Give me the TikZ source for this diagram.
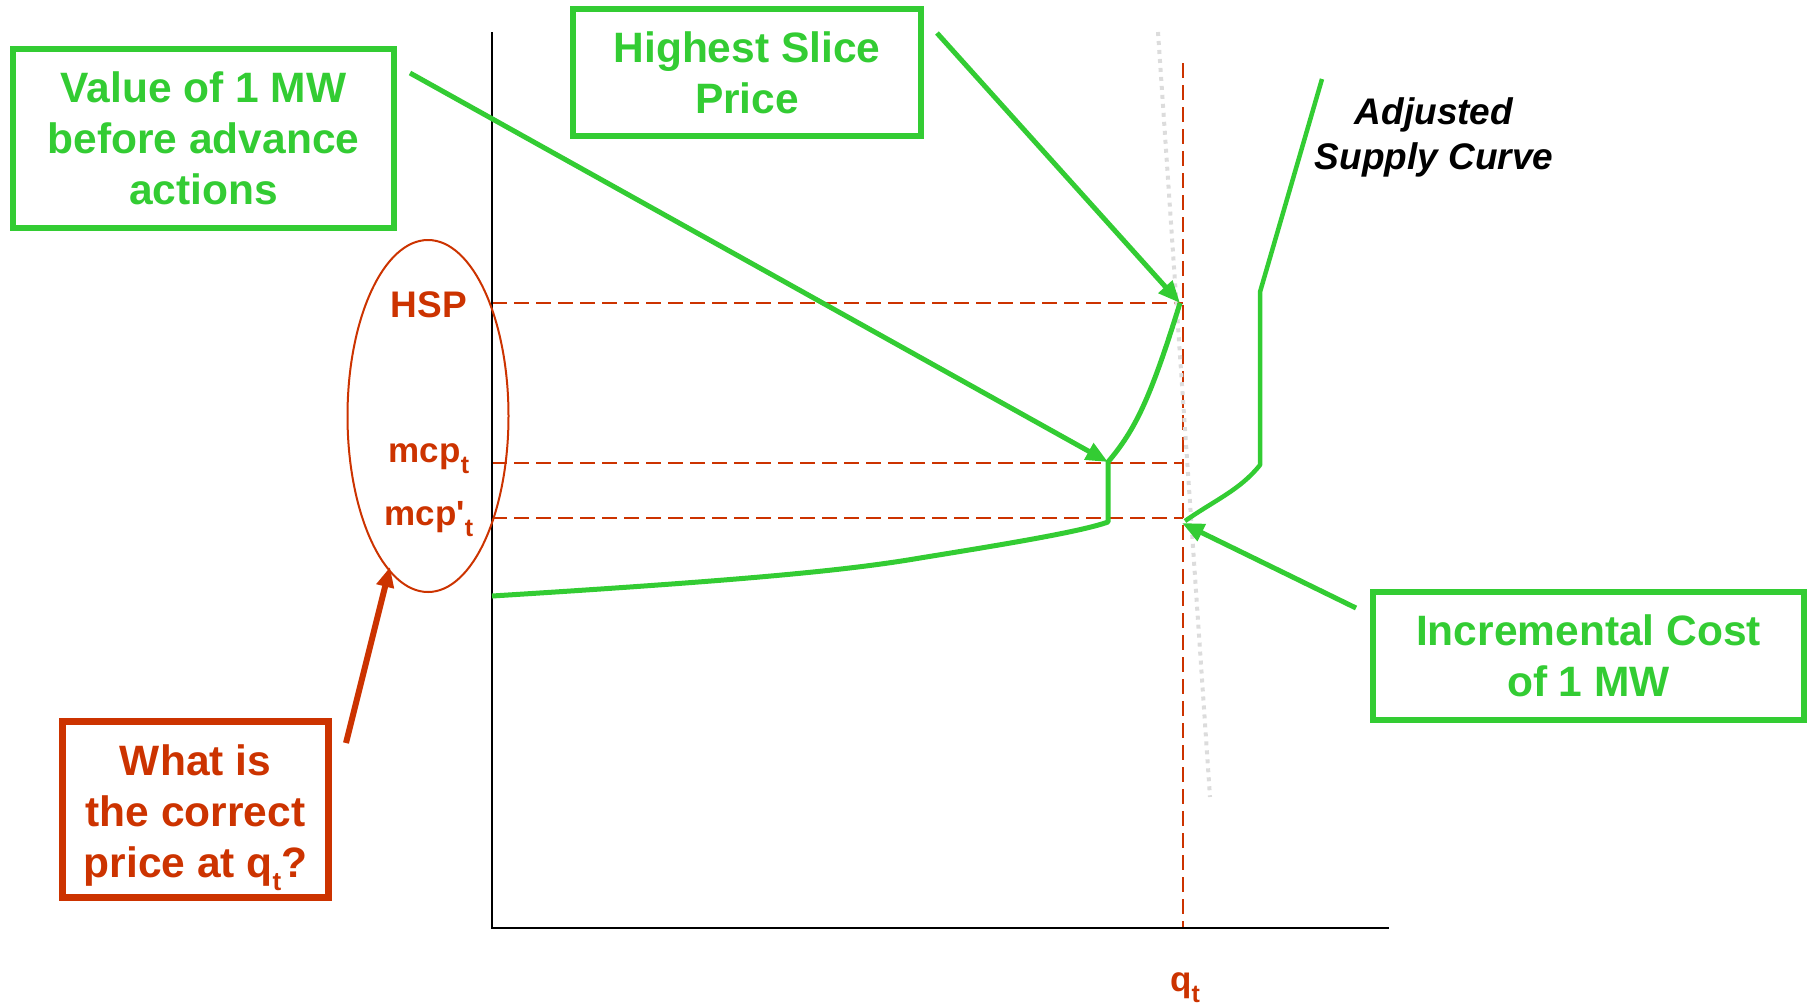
\documentclass[tikz,border=0pt]{standalone}
\usepackage{fontspec}
\setmainfont{Liberation Sans}
\usetikzlibrary{arrows.meta,shapes.geometric}
\definecolor{grn}{HTML}{33CC33}
\definecolor{rd}{HTML}{CC3300}
\definecolor{lgray}{HTML}{DCDCDC}
\newcommand{\subt}[1]{\raisebox{-0.32em}{\fontsize{#1}{#1}\selectfont t}}
\begin{document}
\begin{tikzpicture}[x=1pt,y=-1pt,
  gbox/.style={draw=grn,line width=6pt,text=grn,font=\fontsize{42.5}{51}\selectfont\bfseries,align=center,inner sep=0pt},
  rbox/.style={draw=rd,line width=7pt,text=rd,font=\fontsize{42.5}{51}\selectfont\bfseries,align=center,inner sep=0pt},
  lab/.style={text=rd,font=\fontsize{35}{40}\selectfont\bfseries,inner sep=0pt,anchor=base},
  guide/.style={draw=rd,line width=2.6pt,dash pattern=on 15pt off 7pt},
  curve/.style={draw=grn,line width=5pt,line join=round},
  garrow/.style={draw=grn,line width=5pt,-{Triangle[length=22pt,width=18pt]}},
  rarrow/.style={draw=rd,line width=6pt,-{Triangle[length=20pt,width=17pt]}},
  axis/.style={draw=black,line width=2.5pt}
]
\useasboundingbox (0,0) rectangle (1807,1005);

% key coordinates
\coordinate (ytop) at (492,32);
\coordinate (orig) at (492,928);
\coordinate (xend) at (1389,928);
\coordinate (qtop) at (1183,63);
\coordinate (qbot) at (1183,928);
\coordinate (yhsp) at (492,303);
\coordinate (xhsp) at (1183,303);
\coordinate (ymcp) at (492,463);
\coordinate (xmcp) at (1183,463);
\coordinate (ymcq) at (492,518);
\coordinate (xmcq) at (1183,518);
\coordinate (gtop) at (1158,32);
\coordinate (gbot) at (1210,797);

% supply curve points
\coordinate (s0) at (492,596);
\coordinate (s1) at (920,558);
\coordinate (s2) at (1108,522);
\coordinate (s3) at (1108,462);
\coordinate (s4) at (1180,303);

% adjusted supply curve points
\coordinate (a0) at (1322,79);
\coordinate (a1) at (1260,292);
\coordinate (a2) at (1260,465);
\coordinate (a3) at (1185,521);

% guide lines
\path[guide] (yhsp) -- (xhsp);
\path[guide] (ymcp) -- (xmcp);
\path[guide] (ymcq) -- (xmcq);
\path[guide] (qtop) -- (qbot);

% grey dotted line
\draw[lgray,line width=4pt,dash pattern=on 4pt off 5pt] (gtop) -- (gbot);

% axes
\draw[axis] (ytop) -- (orig) -- (xend);

% supply curve
\path[curve] (s0) .. controls (750,580) and (850,570) .. (s1)
  .. controls (1000,545) and (1080,532) .. (s2) -- (s3)
  .. controls (1135,430) and (1150,400) .. (s4);

% adjusted supply curve
\path[curve,line width=4.5pt] (a0) -- (a1) -- (a2)
  .. controls (1240,490) and (1215,500) .. (a3);

% ellipse with labels
\node[draw=rd,line width=2pt,ellipse,minimum width=161pt,minimum height=352pt,inner sep=0pt] (ell) at (428,416) {};
\node[lab,font=\fontsize{37}{40}\selectfont\bfseries] (hsp) at (429,317) {HSP};
\node[lab] (mcp) at (429,462) {mcp\subt{25}};
\node[lab] (mcq) at (429,525) {mcp\textquotesingle\subt{25}};
\node[lab] (qt) at (1185,991) {q\subt{25}};

% boxes
\node[gbox,minimum width=381pt,minimum height=179pt] (val) at (203.5,138.5)
  {Value of 1 MW\\before advance\\actions};
\node[gbox,minimum width=348pt,minimum height=127pt] (hsl) at (747,72.5)
  {Highest Slice\\Price};
\node[gbox,minimum width=431pt,minimum height=128pt] (inc) at (1588.5,656)
  {Incremental Cost\\of 1 MW};
\node[rbox,minimum width=266pt,minimum height=176pt] (wha) at (195.5,809.5)
  {\rule{0pt}{47pt}What is\\the correct\\price at q\subt{26}?};
\node[font=\fontsize{37}{45}\selectfont\bfseries\itshape,align=center,inner sep=0pt] (adj) at (1434,137)
  {Adjusted\\Supply Curve};

% arrow start points
\coordinate (valA) at (410,73);
\coordinate (hslA) at (937,33);
\coordinate (incA) at (1356,608);
\coordinate (whaA) at (346,743);
\coordinate (ellA) at (390,567);
\coordinate (incT) at (1182,523);

% arrows
\draw[garrow] (valA) -- (s3);
\draw[garrow] (hslA) -- (s4);
\draw[garrow] (incA) -- (incT);
\draw[rarrow] (whaA) -- (ellA);
\end{tikzpicture}
\end{document}
